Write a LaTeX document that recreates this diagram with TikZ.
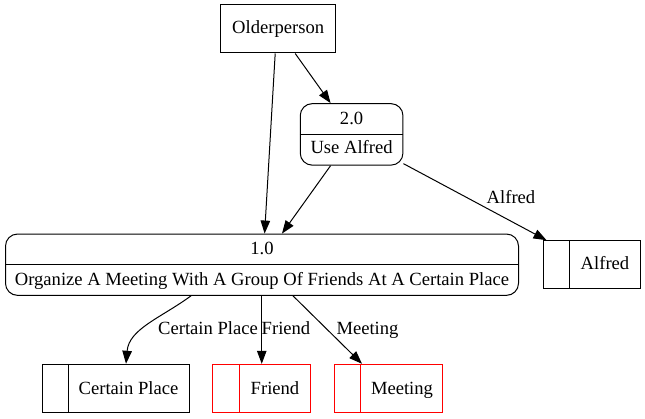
\documentclass[tikz,border=0pt]{standalone}
\usepackage{fontspec}
\setmainfont{Liberation Serif}
\usetikzlibrary{arrows.meta}
\begin{document}
\begin{tikzpicture}[x=1pt,y=-1pt,
  every node/.style={font=\fontsize{18.6}{22}\selectfont, inner sep=0pt},
  ent/.style={draw, line width=1pt, rectangle},
  proc/.style={draw, line width=1pt, rounded corners=12pt},
  store/.style={draw, line width=1pt, minimum height=48.4pt},
  redstore/.style={store, draw=red},
  txt/.style={anchor=base},
  flow/.style={line width=1pt, -{Triangle[length=13pt,width=9.5pt]}}]
\useasboundingbox (0,0) rectangle (645,419);
% external entity
\node[ent, minimum width=115pt, minimum height=48pt] (older) at (278.2,29) {Olderperson};
% process 2.0
\node[proc, minimum width=102.7pt, minimum height=61.5pt] (p2) at (351.6,134.4) {};
\draw[line width=1pt] (p2.west) -- (p2.east);
\node[txt] (p2num) at (351.6,124.4) {2.0};
\node[txt] (p2txt) at (351.6,153.8) {Use Alfred};
% process 1.0
\node[proc, minimum width=513pt, minimum height=61.3pt] (p1) at (262,264.7) {};
\draw[line width=1pt] (p1.west) -- (p1.east);
\node[txt] (p1num) at (262,254.3) {1.0};
\node[txt] (p1txt) at (262,285.5) {Organize A Meeting With A Group Of Friends At A Certain Place};
% data stores
\node[store, minimum width=97pt, minimum height=48pt] (alfred) at (591.5,264.7) {};
\draw[line width=1pt] ([xshift=26.7pt]alfred.north west) -- ([xshift=26.7pt]alfred.south west);
\node[txt] (alfredtxt) at (605,269.5) {Alfred};
\node[store, minimum width=147pt] (cplace) at (115.5,388.5) {};
\draw[line width=1pt] ([xshift=26.7pt]cplace.north west) -- ([xshift=26.7pt]cplace.south west);
\node[txt] (cplacetxt) at (128.5,394) {Certain Place};
\node[redstore, minimum width=97.9pt] (friend) at (261.75,388.5) {};
\draw[line width=1pt, red] ([xshift=26.7pt]friend.north west) -- ([xshift=26.7pt]friend.south west);
\node[txt] (friendtxt) at (275,394) {Friend};
\node[redstore, minimum width=108.2pt] (meeting) at (388.7,388.5) {};
\draw[line width=1pt, red] ([xshift=26.7pt]meeting.north west) -- ([xshift=26.7pt]meeting.south west);
\node[txt] (meetingtxt) at (402,394) {Meeting};
% flows
\draw[flow] ([xshift=-3pt]older.south) -- ([xshift=2.6pt]p1.north);
\draw[flow] ([xshift=17pt]older.south) -- ([xshift=-21pt]p2.north);
\draw[flow] ([xshift=-21pt]p2.south) -- ([xshift=20pt]p1.north);
\draw[flow] ([yshift=2pt]p2.south east) -- ([xshift=4pt]alfred.north west);
\node[txt] (lalfred) at (511,204) {Alfred};
\draw[flow] ([xshift=-71pt]p1.south) .. controls +(-30,22) and +(3,-35) .. ([xshift=10.5pt]cplace.north);
\node[txt] (lcplace) at (208,335) {Certain Place};
\draw[flow] (p1.south -| friend.north) -- (friend.north);
\node[txt] (lfriend) at (286,335) {Friend};
\draw[flow] ([xshift=31pt]p1.south) -- ([xshift=-26.7pt]meeting.north);
\node[txt] (lmeeting) at (367.5,335) {Meeting};
\end{tikzpicture}
\end{document}
